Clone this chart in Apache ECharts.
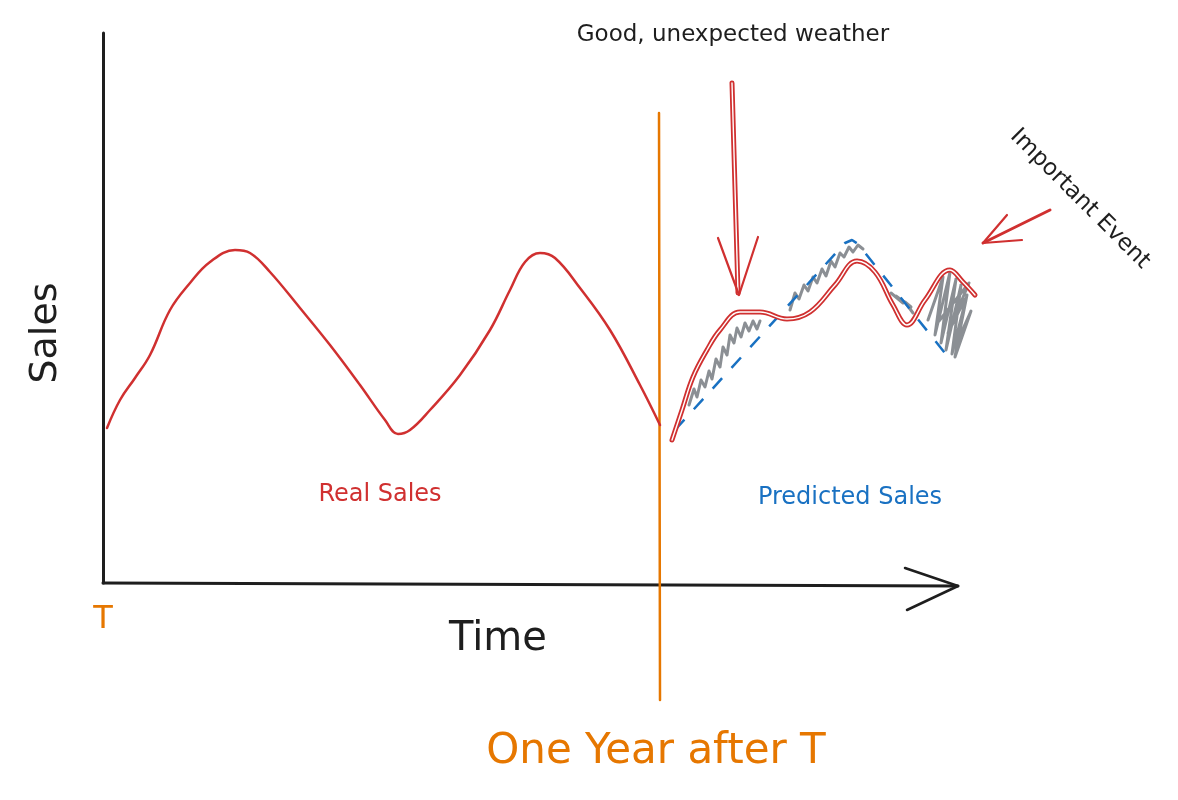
<!DOCTYPE html>
<html>
<head>
<meta charset="utf-8">
<script src="https://cdn.jsdelivr.net/npm/echarts@6/dist/echarts.min.js"></script>
<style>
  html, body { margin: 0; background: #fff; }
  #chart { width: 1178px; height: 800px; }
</style>
</head>
<body>
<div id="chart"></div>
<script>
// time / sales in sketch units (x: 0..1075, y: 0..550)
const realSales = [[4,155],[17,183],[32,205],[47,228],[67,273],[87,300],[107,321],[132,333],[147,330],[167,311],[197,275],[227,238],[257,198],[282,163],[295,149],[307,153],[327,173],[357,208],[387,253],[407,293],[422,321],[437,330],[452,325],[477,295],[507,253],[537,198],[557,158]];
const actualAfter = [[569,143],[579,173],[590,206],[604,233],[617,253],[637,271],[657,271],[684,264],[707,271],[732,298],[754,322],[772,311],[790,278],[804,258],[822,283],[847,313],[860,301],[872,288]];
const predicted = [[572,153],[742,340],[749,343],[755,339],[849,221]];

// noisy observations (gray scribbles)
const noiseA = [[586,178],[591,194],[594,186],[598,203],[602,196],[606,212],[609,204],[613,224],[617,216],[620,236],[624,228],[627,248],[631,240],[634,255],[638,246],[642,260],[646,252],[650,262],[654,254],[657,262]];
const noiseB = [[687,273],[692,290],[696,284],[701,298],[705,292],[710,306],[714,300],[719,314],[723,307],[728,322],[732,316],[737,330],[741,326],[746,336],[750,331],[755,338],[760,334]];
const noiseC = [[788,290],[800,280],[793,287],[808,276],[802,281],[810,270]];
const noiseD = [[825,263],[840,306],[832,248],[847,311],[838,240],[853,304],[843,233],[858,298],[849,229],[864,288],[855,243],[868,272],[852,226],[862,284],[845,250],[866,300],[836,262]];

// markers
const xAxisLine = [[0,0],[855,-3]];
const axisArrow = [[802,15],[855,-3],[804,-27]];
const oneYear = [[556,470],[557,-117]];
const weatherShaft = [[629,500],[635,290]];
const weatherHead = [[615,345],[636,288],[655,346]];
const eventShaft = [[947,373],[880,340]];
const eventHead = [[904,368],[880,340],[919,343]];

const RED = '#d03030', BLUE = '#1971c2', ORANGE = '#e67700', GRAY = '#8b8f94', INK = '#1e1e1e';

function line(data, color, width, extra) {
  return Object.assign({
    type: 'line', data: data, symbol: 'none', clip: false, silent: true,
    lineStyle: { color: color, width: width, cap: 'round', join: 'round' }
  }, extra || {});
}

const chart = echarts.init(document.getElementById('chart'));
const font = '"DejaVu Sans", sans-serif';
function txt(text, x, y, size, color, rot) {
  return {
    type: 'text', x: x, y: y, rotation: rot || 0, silent: true,
    style: { text: text, fontSize: size, fontFamily: font, fill: color, align: 'center', verticalAlign: 'middle' }
  };
}

chart.setOption({
  animation: false,
  backgroundColor: '#fff',
  grid: { left: 103, right: 0, top: 33, bottom: 217 },
  xAxis: {
    type: 'value', min: 0, max: 1075, show: false
  },
  yAxis: {
    type: 'value', min: 0, max: 550,
    axisLine: { show: true, onZero: false, lineStyle: { color: INK, width: 3 } },
    axisTick: { show: false }, axisLabel: { show: false }, splitLine: { show: false }
  },
  series: [
    line(xAxisLine, INK, 3),
    line(axisArrow, INK, 2.5),
    line(oneYear, ORANGE, 2.5),
    line(noiseA, GRAY, 3),
    line(noiseB, GRAY, 3),
    line(noiseC, GRAY, 3),
    line(noiseD, GRAY, 3),
    line(predicted, BLUE, 2.5, { lineStyle: { color: BLUE, width: 2.5, type: [14, 14] } }),
    line(realSales, RED, 2.5, { smooth: 0.4 }),
    line(actualAfter, RED, 5, { smooth: 0.4 }),
    line(actualAfter, '#fff', 1.4, { smooth: 0.4 }),
    line(weatherShaft, RED, 5),
    line(weatherShaft, '#fff', 1.4),
    line(weatherHead, RED, 2.2),
    line(eventShaft, RED, 3),
    line(eventHead, RED, 2.2)
  ],
  graphic: [
    txt('Good, unexpected weather', 733, 35, 23, INK),
    txt('Important Event', 1080, 199, 23, INK, -Math.PI / 4),
    txt('Sales', 46, 333, 38, INK, Math.PI / 2),
    txt('Time', 498, 640, 40, INK),
    txt('T', 103, 620, 32, ORANGE),
    txt('One Year after T', 656, 752, 42, ORANGE),
    txt('Real Sales', 380, 495, 24, RED),
    txt('Predicted Sales', 850, 498, 24, BLUE)
  ]
});
</script>
</body>
</html>
